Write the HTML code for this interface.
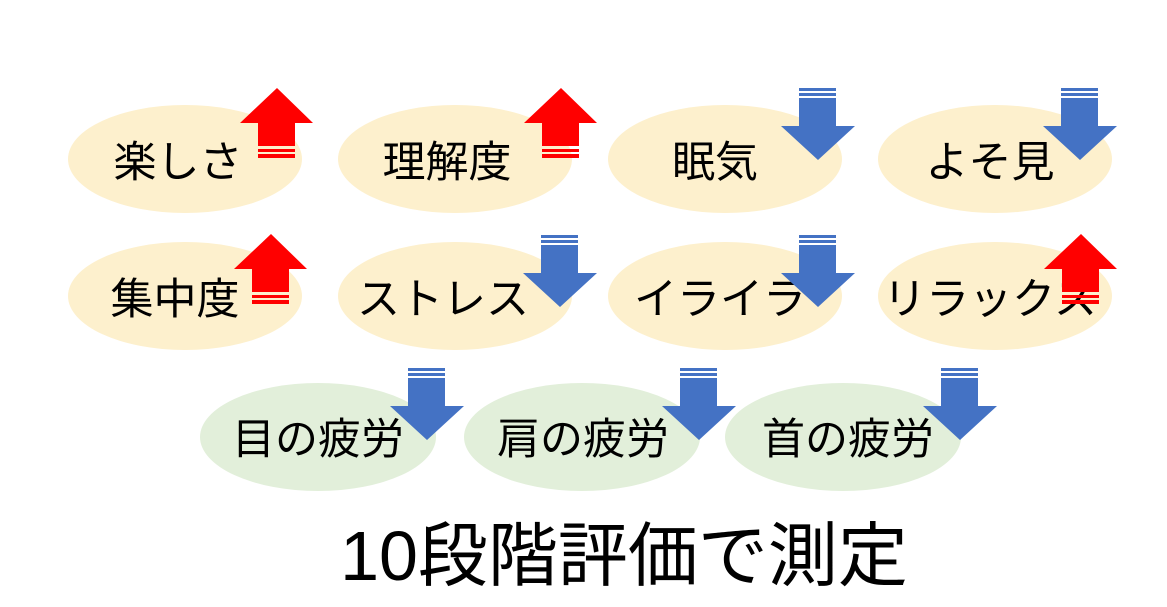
<!DOCTYPE html>
<html><head><meta charset="utf-8"><style>
html,body{margin:0;padding:0;background:#fff;}
svg{display:block}
text{font-family:"Liberation Sans","Noto Sans CJK JP",sans-serif;fill:#000;text-anchor:middle;}
</style></head><body>
<svg width="1167" height="607" viewBox="0 0 1167 607">
<defs>
<g id="up">
<polygon points="0,0 36,35 18,35 18,58 -19,58 -19,35 -37,35" fill="#f00"/>
<rect x="-19" y="61" width="37" height="3" fill="#f00"/>
<rect x="-19" y="66" width="37" height="4" fill="#f00"/>
</g>
<g id="down">
<rect x="-19" y="0" width="37" height="3" fill="#4472c4"/>
<rect x="-19" y="5" width="37" height="3" fill="#4472c4"/>
<polygon points="-19,10 18,10 18,38 37,38 0,72 -37,38 -19,38" fill="#4472c4"/>
</g>
</defs>
<g fill="#fdf0cd">
<ellipse cx="185" cy="159" rx="117" ry="54"/>
<ellipse cx="455" cy="159" rx="117" ry="54"/>
<ellipse cx="725" cy="159" rx="117" ry="54"/>
<ellipse cx="995" cy="159" rx="117" ry="54"/>
<ellipse cx="185" cy="296" rx="117" ry="54"/>
<ellipse cx="455" cy="296" rx="117" ry="54"/>
<ellipse cx="725" cy="296" rx="117" ry="54"/>
<ellipse cx="995" cy="296" rx="117" ry="54"/>
</g>
<g fill="#e2efda">
<ellipse cx="318" cy="437" rx="118" ry="54"/>
<ellipse cx="582" cy="437" rx="118" ry="54"/>
<ellipse cx="843" cy="437" rx="118" ry="54"/>
</g>
<g font-size="43">
<text x="178" y="177">楽しさ</text>
<text x="447" y="177">理解度</text>
<text x="715" y="177">眠気</text>
<text x="990" y="177">よそ見</text>
<text x="175" y="314">集中度</text>
<text x="443" y="314">ストレス</text>
<text x="720" y="314">イライラ</text>
<text x="990" y="314">リラックス</text>
<text x="318" y="454">目の疲労</text>
<text x="583" y="454">肩の疲労</text>
<text x="848" y="454">首の疲労</text>
</g>
<use href="#up" x="277" y="88"/>
<use href="#up" x="561" y="88"/>
<use href="#down" x="818" y="88"/>
<use href="#down" x="1080" y="88"/>
<use href="#up" x="271" y="234"/>
<use href="#down" x="560" y="235"/>
<use href="#down" x="818" y="235"/>
<use href="#up" x="1081" y="234"/>
<use href="#down" x="427" y="368"/>
<use href="#down" x="699" y="368"/>
<use href="#down" x="960" y="368"/>
<text x="624" y="580" font-size="70">10段階評価で測定</text>
</svg>
</body></html>
